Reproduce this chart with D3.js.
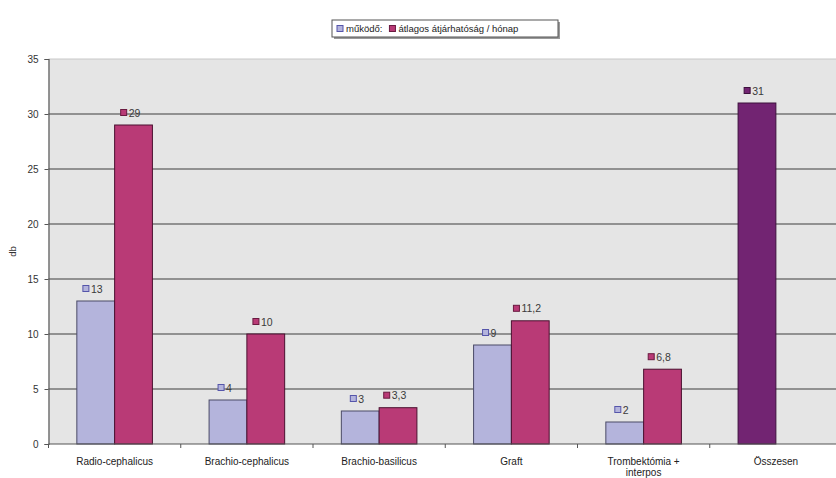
<!DOCTYPE html>
<html>
<head>
<meta charset="utf-8">
<script src="https://cdn.jsdelivr.net/npm/d3@7/dist/d3.min.js"></script>
<style>
  html, body { margin: 0; padding: 0; background: #ffffff; }
  svg { display: block; font-family: "Liberation Sans", Arial, sans-serif; }
</style>
</head>
<body>
<svg id="chart" width="836" height="478"></svg>
<script>
// Categories and series
const categories = ["Radio-cephalicus", "Brachio-cephalicus", "Brachio-basilicus", "Graft", "Trombektómia + interpos", "Összesen"];
const seriesNames = ["működő", "átlagos átjárhatóság / hónap"];
const working = [13, 4, 3, 9, 2, 31];
const patency = [29, 10, 3.3, 11.2, 6.8, null];
const valueLabels0 = ["13", "4", "3", "9", "2", "31"];
const valueLabels1 = ["29", "10", "3,3", "11,2", "6,8", null];
const yTicks = [0, 5, 10, 15, 20, 25, 30, 35];

const colors = ["#b4b4dc", "#b93a76"];
const totalColor = "#722472";

const svg = d3.select("#chart");
const margin = { left: 48.5, top: 59, right: -6, bottom: 34 };
const W = 836, H = 478;
const plotW = W - margin.left - margin.right;
const plotH = H - margin.top - margin.bottom;

const x = d3.scaleBand().domain(categories).range([margin.left, margin.left + plotW]).paddingInner(0).paddingOuter(0);
const barW = x.bandwidth() / 3.5; // gap width 150%
const y = d3.scaleLinear().domain([0, 35]).range([margin.top + plotH, margin.top]);

// Plot area
svg.append("rect")
  .attr("x", margin.left).attr("y", margin.top)
  .attr("width", plotW).attr("height", plotH)
  .attr("fill", "#e5e5e5");

// Gridlines
svg.append("g").selectAll("line")
  .data(yTicks.filter(t => t > 0 && t < 35))
  .join("line")
  .attr("x1", margin.left).attr("x2", margin.left + plotW)
  .attr("y1", d => y(d)).attr("y2", d => y(d))
  .attr("stroke", "#757575").attr("stroke-width", 1.7);
svg.append("line")
  .attr("x1", margin.left).attr("x2", margin.left + plotW)
  .attr("y1", y(35)).attr("y2", y(35))
  .attr("stroke", "#c8c8c8").attr("stroke-width", 1);

// Bars
const rows = categories.map((c, i) => ({ c, i, v0: working[i], v1: patency[i] }));
const bars = svg.append("g");
rows.forEach(r => {
  const x0 = x(r.c) + barW * 0.75;
  const isTotal = r.v1 === null;
  bars.append("rect")
    .attr("x", x0).attr("y", y(r.v0))
    .attr("width", barW).attr("height", y(0) - y(r.v0))
    .attr("fill", isTotal ? totalColor : colors[0])
    .attr("stroke", isTotal ? "#3d103d" : "#4a4a66").attr("stroke-width", 1);
  if (!isTotal) {
    bars.append("rect")
      .attr("x", x0 + barW).attr("y", y(r.v1))
      .attr("width", barW).attr("height", y(0) - y(r.v1))
      .attr("fill", colors[1])
      .attr("stroke", "#4a1030").attr("stroke-width", 1);
  }
});

// Value labels with legend-key markers
function valueLabel(cx, v, text, fill, stroke) {
  const g = svg.append("g");
  const t = g.append("text").attr("x", 2).attr("y", 4)
    .attr("font-size", 10.5).attr("fill", "#3a3a3a").text(text);
  const tw = t.node().getComputedTextLength();
  const total = 8 + tw;
  g.attr("transform", `translate(${cx - total / 2 + 3},${y(v) - 12.5})`);
  g.append("rect").attr("x", -6).attr("y", -3).attr("width", 6).attr("height", 6)
    .attr("fill", fill).attr("stroke", stroke).attr("stroke-width", 1);
}
rows.forEach(r => {
  const x0 = x(r.c) + barW * 0.75;
  const isTotal = r.v1 === null;
  valueLabel(x0 + barW / 2, r.v0, valueLabels0[r.i], isTotal ? totalColor : colors[0], isTotal ? "#3d103d" : "#5555aa");
  if (!isTotal) valueLabel(x0 + barW * 1.5, r.v1, valueLabels1[r.i], colors[1], "#6a1a40");
});

// Y axis
const yAxis = svg.append("g").attr("transform", `translate(${margin.left},0)`)
  .call(d3.axisLeft(y).tickValues(yTicks).tickSize(4).tickPadding(6));
yAxis.select(".domain").attr("stroke", "#555").attr("stroke-width", 1.2);
yAxis.selectAll(".tick line").attr("stroke", "#555");
yAxis.selectAll("text").attr("font-size", 10).attr("fill", "#333").attr("font-family", "Liberation Sans, Arial, sans-serif");

// X axis
const xAxis = svg.append("g").attr("transform", `translate(0,${y(0)})`);
xAxis.append("line").attr("x1", margin.left).attr("x2", margin.left + plotW)
  .attr("stroke", "#555").attr("stroke-width", 1.2);
xAxis.selectAll(".tk").data(categories.concat(["end"]))
  .join("line")
  .attr("x1", (d, i) => margin.left + i * x.bandwidth())
  .attr("x2", (d, i) => margin.left + i * x.bandwidth())
  .attr("y1", 0).attr("y2", 4)
  .attr("stroke", "#555");
const xl = xAxis.selectAll(".xl").data(categories).join("text")
  .attr("x", d => x(d) + x.bandwidth() / 2)
  .attr("y", 20.5)
  .attr("text-anchor", "middle")
  .attr("font-size", 10).attr("fill", "#222");
xl.each(function (d) {
  const t = d3.select(this);
  if (d === "Trombektómia + interpos") {
    t.append("tspan").attr("x", x(d) + x.bandwidth() / 2).text("Trombektómia +");
    t.append("tspan").attr("x", x(d) + x.bandwidth() / 2).attr("dy", 11.5).text("interpos");
  } else {
    t.text(d);
  }
});

// Y axis title
svg.append("text")
  .attr("transform", `translate(16,${y(17.5)}) rotate(-90)`)
  .attr("text-anchor", "middle").attr("font-size", 9.5).attr("fill", "#333")
  .text("db");

// Legend
const lg = svg.append("g").attr("transform", "translate(332,20)");
lg.append("rect").attr("x", 2).attr("y", 2).attr("width", 226).attr("height", 17).attr("fill", "#9a9a9a");
lg.append("rect").attr("x", 0).attr("y", 0).attr("width", 226).attr("height", 17)
  .attr("fill", "#ffffff").attr("stroke", "#555").attr("stroke-width", 1);
let lx = 5;
seriesNames.forEach((name, i) => {
  lg.append("rect").attr("x", lx).attr("y", 5.5).attr("width", 6).attr("height", 6)
    .attr("fill", colors[i]).attr("stroke", i === 0 ? "#5555aa" : "#6a1a40");
  const t = lg.append("text").attr("x", lx + 9).attr("y", 12)
    .attr("font-size", 9.5).attr("fill", "#222").text(name + (i === 0 ? ":" : ""));
  lx += 9 + t.node().getComputedTextLength() + 7;
});
</script>
</body>
</html>
